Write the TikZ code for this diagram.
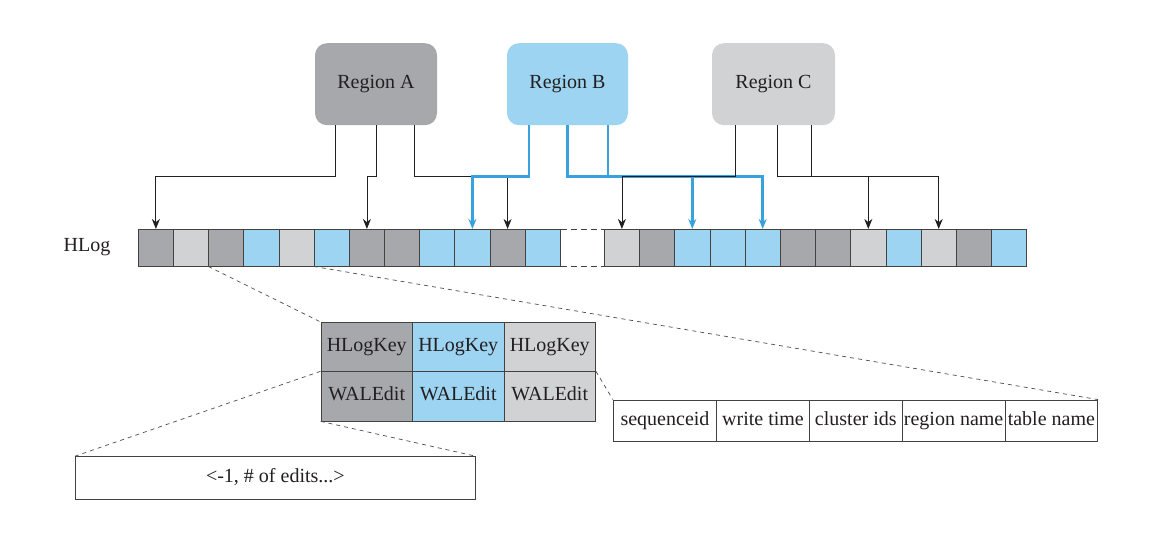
\documentclass[tikz,border=0pt]{standalone}
\usepackage{fontspec}
\setmainfont{Liberation Serif}
\usetikzlibrary{arrows.meta,calc}
\definecolor{dgray}{RGB}{167,168,171}
\definecolor{lgray}{RGB}{209,210,212}
\definecolor{lblue}{RGB}{157,212,242}
\definecolor{bline}{RGB}{55,162,222}
\definecolor{ink}{RGB}{35,31,32}
\begin{document}
\begin{tikzpicture}[x=1pt,y=-1pt,font=\fontsize{20}{24}\selectfont,
  region/.style={rounded corners=12pt,minimum width=122pt,minimum height=82pt,inner sep=0pt,text=ink},
  cell/.style={draw=ink!85,line width=0.8pt,minimum width=35.2pt,minimum height=36.7pt,inner sep=0pt},
  conn/.style={ink,line width=0.8pt},
  bconn/.style={bline,line width=2.6pt},
  tipk/.style={-{Stealth[length=10pt,width=8pt]}},
  zline/.style={ink!80,line width=0.7pt,dash pattern=on 4pt off 4pt},
  txt/.style={text height=13.5pt,text depth=4.5pt},
  tab/.style={txt,draw=ink!85,line width=0.8pt,inner sep=0pt,minimum height=49.3pt,minimum width=91.5pt,text=ink},
  field/.style={txt,draw=ink!85,line width=0.8pt,inner sep=0pt,minimum height=41.7pt,text=ink}]
\fill[white] (0,0) rectangle (1152,538);
\useasboundingbox (0,0) rectangle (1152,538);

% regions
\node[region,fill=dgray] (A) at (376,84.2) {Region A};
\node[region,fill=lblue,minimum width=121pt] (B) at (567.5,84.2) {Region B};
\node[region,fill=lgray,minimum width=123pt] (C) at (773.5,84.2) {Region C};

% HLog
\node[text=ink] (hlog) at (87,247) {HLog};
\foreach \col [count=\i] in {dgray,lgray,dgray,lblue,lgray,lblue,dgray,dgray,lblue,lblue,dgray,lblue}
  \node[cell,fill=\col,minimum width=35.17pt] (c\i) at ({138.3+(\i-0.5)*35.17},247.7) {};
\foreach \col [count=\i] in {lgray,dgray,lblue,lblue,lblue,dgray,dgray,lgray,lblue,lgray,dgray,lblue}
  \node[cell,fill=\col] (d\i) at ({604.3+(\i-0.5)*35.2},247.7) {};
\draw[ink!85,line width=0.8pt,dash pattern=on 6pt off 4pt] (c12.north east) -- (d1.north west);
\draw[ink!85,line width=0.8pt,dash pattern=on 6pt off 4pt] (c12.south east) -- (d1.south west);

% connectors from Region A
\draw[conn,tipk] ([xshift=-41pt]A.south) |- ([yshift=52.4pt]c1.north) -- (c1.north);
\draw[conn,tipk] (A.south) |- ([yshift=52.4pt]c7.north) -- (c7.north);
\draw[conn,tipk] ([xshift=38pt]A.south) |- ([yshift=52.4pt]c11.north) -- (c11.north);

% connectors from Region B
\draw[bconn,tipk] ([xshift=-38.5pt]B.south) |- ([yshift=52.4pt]c10.north) -- (c10.north);
\draw[bconn,tipk] (B.south) |- ([yshift=52.4pt]d5.north) -- (d5.north);
\draw[bconn] ([xshift=40.5pt]B.south) -- ([xshift=40.5pt,yshift=52.4pt]B.south |- d5.north);
\draw[bconn,tipk] ([yshift=52.4pt]d3.north) -- (d3.north);

% connectors from Region C
\draw[conn,tipk] ([xshift=-38.5pt]C.south) |- ([yshift=52.4pt]d1.north) -- (d1.north);
\draw[conn,tipk] ([xshift=4.2pt]C.south) |- ([yshift=52.4pt]d10.north) -- (d10.north);
\draw[conn] ([xshift=38.2pt]C.south) -- ([xshift=38.2pt,yshift=52.4pt]C.south |- d10.north);
\draw[conn,tipk] ([yshift=52.4pt]d8.north) -- (d8.north);

% entry table
\node[tab,fill=dgray] (k1) at (366.75,347) {HLogKey};
\node[tab,fill=lblue] (k2) at (458.25,347) {HLogKey};
\node[tab,fill=lgray] (k3) at (549.75,347) {HLogKey};
\node[tab,fill=dgray] (w1) at (366.75,396.3) {WALEdit};
\node[tab,fill=lblue] (w2) at (458.25,396.3) {WALEdit};
\node[tab,fill=lgray] (w3) at (549.75,396.3) {WALEdit};

% key fields
\node[field,minimum width=103.4pt] (f1) at (665,420.85) {sequenceid};
\node[field,minimum width=92.6pt] (f2) at (763,420.85) {write time};
\node[field,minimum width=93pt] (f3) at (855.8,420.85) {cluster ids};
\node[field,minimum width=102.7pt] (f4) at (953.65,420.85) {region name};
\node[field,minimum width=92.7pt] (f5) at (1051.35,420.85) {table name};

% edits box
\node[field,minimum width=400.7pt,minimum height=42.6pt] (ed) at (275.35,478) {<-1, \# of edits...>};

% zoom lines
\draw[zline] (c3.south west) -- (k1.north west);
\draw[zline] (c6.south west) -- (f5.north east);
\draw[zline] (w1.north west) -- (ed.north west);
\draw[zline] (w1.south west) -- (ed.north east);
\draw[zline] (w3.north east) -- (f1.north west);
\end{tikzpicture}
\end{document}
